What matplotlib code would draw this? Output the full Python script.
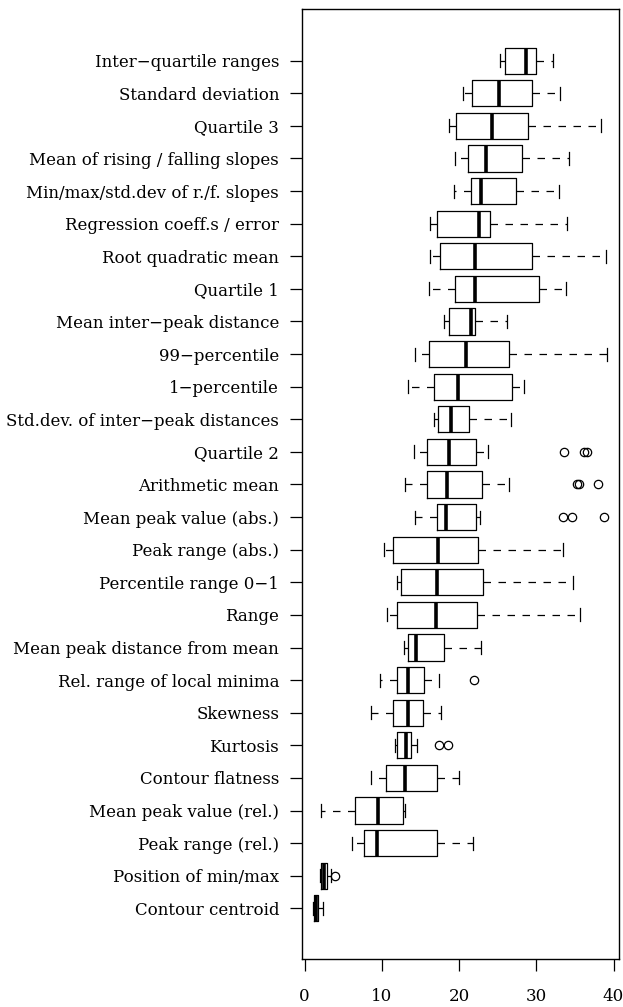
import numpy as np
import matplotlib
matplotlib.use("Agg")
import matplotlib.pyplot as plt

# features, top to bottom
features = [
    "Inter\u2212quartile ranges", "Standard deviation", "Quartile 3",
    "Mean of rising / falling slopes", "Min/max/std.dev of r./f. slopes",
    "Regression coeff.s / error", "Root quadratic mean", "Quartile 1",
    "Mean inter\u2212peak distance", "99\u2212percentile", "1\u2212percentile",
    "Std.dev. of inter\u2212peak distances", "Quartile 2", "Arithmetic mean",
    "Mean peak value (abs.)", "Peak range (abs.)", "Percentile range 0\u22121",
    "Range", "Mean peak distance from mean", "Rel. range of local minima",
    "Skewness", "Kurtosis", "Contour flatness", "Mean peak value (rel.)",
    "Peak range (rel.)", "Position of min/max", "Contour centroid",
]

# box statistics
whislo = [25.3, 20.5, 18.7, 19.5, 19.3, 16.2, 16.2, 16.1, 18.05, 14.3, 13.35,
          16.7, 14.1, 13.0, 14.3, 10.3, 11.9, 10.7, 12.9, 9.8, 8.6, 11.75,
          8.6, 2.1, 6.1, 2.0, 1.15]
q1 = [25.9, 21.7, 19.6, 21.2, 21.5, 17.1, 17.5, 19.5, 18.7, 16.1, 16.8,
      17.3, 15.9, 15.8, 17.1, 11.5, 12.5, 11.9, 13.4, 12.0, 11.5, 12.0,
      10.6, 6.5, 7.7, 2.15, 1.23]
med = [28.7, 25.2, 24.2, 23.5, 22.8, 22.6, 22.1, 22.1, 21.5, 20.9, 19.9,
       19.0, 18.7, 18.5, 18.3, 17.3, 17.2, 17.0, 14.4, 13.4, 13.4, 13.1,
       13.0, 9.55, 9.4, 2.55, 1.5]
q3 = [29.9, 29.5, 28.9, 28.2, 27.4, 24.0, 29.5, 30.3, 22.1, 26.5, 26.8,
      21.3, 22.2, 23.0, 22.2, 22.5, 23.1, 22.3, 18.1, 15.4, 15.3, 13.8,
      17.1, 12.8, 17.2, 2.95, 1.75]
whishi = [32.1, 33.05, 38.4, 34.2, 32.9, 34.0, 39.0, 33.9, 26.2, 39.2, 28.4,
          26.7, 23.8, 26.4, 22.7, 33.5, 34.8, 35.6, 22.8, 17.4, 17.7, 14.5,
          20.0, 13.0, 21.8, 3.4, 2.43]
outliers = {
    "Quartile 2": [33.6, 36.2, 36.6],
    "Arithmetic mean": [35.3, 35.5, 38.0],
    "Mean peak value (abs.)": [33.4, 34.6, 38.7],
    "Rel. range of local minima": [21.9],
    "Kurtosis": [17.4, 18.6],
    "Position of min/max": [3.95],
}

stats = []
for i, name in enumerate(features):
    stats.append(dict(label=name, whislo=whislo[i], q1=q1[i], med=med[i],
                      q3=q3[i], whishi=whishi[i],
                      fliers=np.array(outliers.get(name, []))))

plt.rcParams['font.family'] = ['DejaVu Serif']

fig = plt.figure(figsize=(6.23, 10.07), dpi=100)
ax = fig.add_axes([0.4852, 0.04767, 0.5083, 0.9434])

n = len(features)
pos = np.arange(n, 0, -1)

ax.bxp(stats, positions=pos, widths=0.8, orientation='horizontal',
       boxprops=dict(color='black', lw=0.9),
       medianprops=dict(color='black', lw=2.6, solid_capstyle='butt'),
       whiskerprops=dict(color='black', lw=0.9, linestyle=(0, (6, 6))),
       capprops=dict(color='black', lw=0.9),
       flierprops=dict(marker='o', markerfacecolor='none',
                       markeredgecolor='black', markersize=6, mew=0.9))

ax.set_xlim(-0.3, 40.7)
ax.set_ylim(-0.555, 28.586)
ax.set_xticks([0, 10, 20, 30, 40])
ax.set_yticks(pos)
ax.set_yticklabels(features)

ax.tick_params(axis='y', length=8.6, width=0.9, pad=8, labelsize=12)
ax.tick_params(axis='x', length=8.6, width=0.9, pad=12, labelsize=12)
for s in ax.spines.values():
    s.set_linewidth(1.0)

fig.savefig("out.png", dpi=100)
